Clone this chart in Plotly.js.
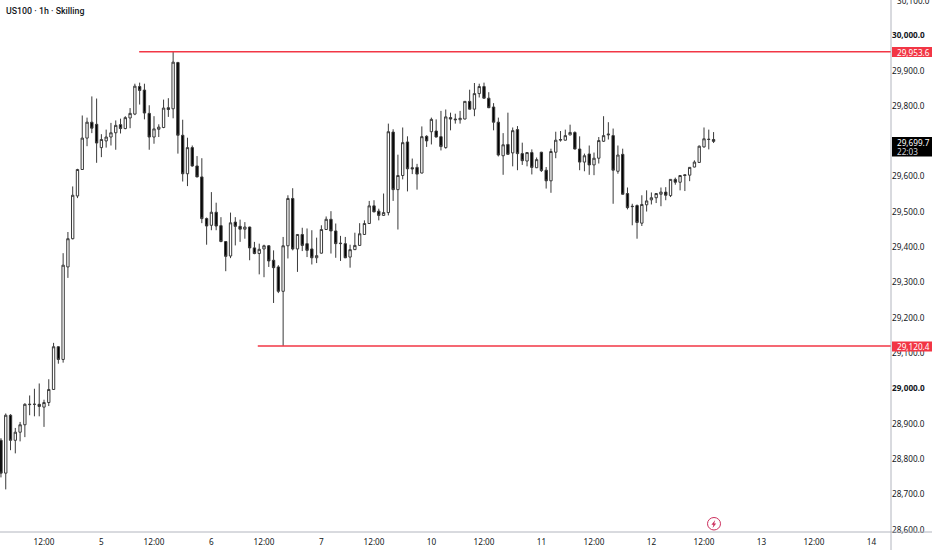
<!DOCTYPE html>
<html><head><meta charset="utf-8">
<script src="https://cdn.plot.ly/plotly-3.0.1.min.js"></script>
<style>html,body{margin:0;padding:0;background:#fff;overflow:hidden}#c{width:932px;height:550px}</style>
</head><body><div id="c"></div>
<script>
const firstBar = -9;
const opens = [28853,28760,28924,28853,28876,28897,28954,28955,28955,28947,28960,28997,29118,29082,29344,29424,29545,29620,29709,29754,29748,29682,29701,29712,29724,29747,29736,29766,29777,29855,29845,29779,29712,29734,29739,29795,29792,29923,29717,29608,29682,29630,29599,29481,29462,29499,29461,29416,29375,29471,29459,29451,29457,29398,29382,29395,29404,29363,29344,29275,29404,29538,29395,29436,29410,29395,29370,29383,29450,29479,29446,29410,29410,29372,29393,29405,29436,29467,29517,29502,29490,29498,29726,29563,29603,29698,29625,29626,29610,29714,29727,29729,29713,29682,29767,29763,29761,29763,29813,29791,29835,29855,29822,29797,29754,29659,29691,29667,29733,29665,29644,29668,29625,29669,29618,29588,29669,29703,29703,29718,29725,29678,29641,29664,29633,29652,29700,29718,29716,29615,29663,29552,29516,29518,29468,29520,29534,29540,29550,29556,29546,29592,29584,29605,29604,29627,29640,29684,29706,29705];
const highs = [28859,28929,28927,28888,28905,28958,28980,28999,29014,28968,29026,29129,29120,29383,29443,29572,29622,29773,29767,29827,29821,29720,29733,29752,29759,29764,29771,29794,29863,29866,29863,29802,29771,29748,29818,29822,29953.6,29925,29761,29710,29688,29658,29652,29484,29556,29526,29485,29417,29498,29485,29478,29471,29458,29415,29410,29407,29406,29391,29349,29429,29547,29567,29437,29455,29453,29448,29427,29462,29487,29502,29467,29432,29429,29407,29441,29468,29476,29531,29533,29509,29552,29750,29734,29662,29739,29714,29651,29636,29742,29717,29767,29762,29786,29790,29781,29778,29786,29814,29846,29865,29863,29866,29839,29808,29767,29723,29781,29739,29743,29696,29669,29677,29654,29670,29627,29679,29727,29729,29733,29747,29728,29714,29665,29688,29668,29712,29771,29754,29736,29688,29679,29569,29523,29521,29547,29561,29555,29553,29569,29570,29593,29597,29604,29606,29627,29646,29688,29739,29733,29726];
const lows = [28748,28714,28825,28816,28850,28862,28924,28921,28921,28891,28950,28996,29070,29073,29313,29422,29539,29619,29686,29723,29639,29655,29682,29688,29676,29722,29734,29737,29774,29804,29762,29676,29693,29712,29737,29769,29765,29665,29586,29573,29628,29598,29468,29407,29448,29448,29414,29332,29369,29405,29415,29424,29363,29380,29323,29315,29344,29242,29270,29120.4,29368,29391,29330,29389,29372,29351,29355,29382,29449,29382,29370,29361,29369,29342,29392,29404,29435,29466,29499,29476,29489,29490,29531,29450,29592,29558,29607,29563,29609,29684,29691,29711,29674,29679,29731,29750,29750,29762,29790,29771,29824,29821,29794,29731,29657,29605,29662,29629,29618,29633,29629,29606,29624,29613,29566,29554,29652,29699,29702,29717,29677,29618,29615,29605,29604,29637,29698,29705,29523,29608,29549,29507,29462,29424,29460,29501,29521,29525,29516,29533,29542,29577,29561,29559,29587,29626,29639,29682,29677,29695];
const closes = [28760,28924,28853,28876,28897,28955,28955,28955,28949,28960,28997,29118,29082,29349,29424,29547,29620,29709,29754,29737,29695,29705,29712,29724,29745,29736,29767,29779,29856,29844,29780,29712,29735,29740,29794,29790,29924,29717,29608,29682,29630,29599,29481,29460,29499,29460,29416,29374,29469,29459,29451,29457,29398,29382,29394,29404,29361,29342,29275,29404,29538,29395,29436,29405,29391,29370,29376,29450,29479,29446,29410,29411,29370,29393,29405,29438,29467,29517,29500,29490,29498,29727,29563,29603,29696,29622,29622,29607,29713,29701,29762,29712,29685,29769,29763,29761,29765,29813,29791,29835,29855,29822,29795,29754,29661,29690,29663,29730,29665,29645,29668,29626,29648,29617,29588,29671,29703,29705,29716,29725,29678,29641,29659,29633,29652,29702,29716,29720,29618,29661,29550,29512,29515,29470,29521,29531,29540,29552,29556,29547,29592,29584,29603,29603,29626,29641,29686,29707,29705,29699.7];

const supportLevel = 29120.4, resistanceLevel = 29953.6, lastPrice = 29699.7;
const resistanceStart = 19.9, supportStart = 44.7, levelEnd = 177.1;
const yTicks = [28600,28700,28800,28900,29000,29100,29200,29300,29400,29500,29600,29800,29900,30000];
const yTickText = ["28,600.0","28,700.0","28,800.0","28,900.0","<b>29,000.0</b>","29,100.0","29,200.0","29,300.0","29,400.0","29,500.0","29,600.0","29,800.0","29,900.0","<b>30,000.0</b>"];
const topTickValue = 30100, topTickText = "30,100.0";
const xTicks = [0,12,23,35,46,58,69,81,92,104,115,127,138,150,161,173];
const xTickText = ["12:00","5","12:00","6","12:00","7","12:00","10","12:00","11","12:00","12","12:00","13","12:00","14"];
const countdown = "22:03";
const barIndex = opens.map((_, i) => firstBar + i);

const ink = "#131722", red = "#f23645", axisGrey = "#b2b5be", wickInk = "#3a3a3a", bolt = "#cc2f5d";
const fontFam = "'Noto Sans','Liberation Sans',sans-serif";

const traces = [
  {type:"candlestick", x:barIndex, open:opens, high:highs, low:lows, close:closes,
   increasing:{line:{color:wickInk,width:1}, fillcolor:"#ffffff"},
   decreasing:{line:{color:wickInk,width:1}, fillcolor:"#000000"},
   whiskerwidth:0, hoverinfo:"skip", showlegend:false},
  {type:"scatter", mode:"lines", x:[resistanceStart, levelEnd], y:[resistanceLevel, resistanceLevel],
   line:{color:red,width:1.5}, hoverinfo:"skip", showlegend:false},
  {type:"scatter", mode:"lines", x:[supportStart, levelEnd], y:[supportLevel, supportLevel],
   line:{color:red,width:1.5}, hoverinfo:"skip", showlegend:false}
];

function fmt(v){ return v.toLocaleString("en-US",{minimumFractionDigits:1,maximumFractionDigits:1}); }
const PW = 891, PH = 532;
const px = x => x / PW, py = y => 1 - y / PH;
function rect(x0, y0, x1, y1, fill){
  return {type:"rect",xref:"paper",yref:"paper",layer:"above",x0:px(x0),x1:px(x1),y0:py(y0),y1:py(y1),fillcolor:fill,line:{width:0}};
}
function axisText(xPixel, yPixel, text, color, size){
  return {xref:"paper",yref:"paper",x:px(xPixel),y:py(yPixel),xanchor:"left",yanchor:"middle",showarrow:false,
    text:text,font:{family:fontFam,size:size||8.2,color:color}};
}
const boltPts = [[715.2,520],[711.4,524.8],[713.4,524.8],[712.6,528],[716.2,523.4],[714.2,523.4]];
const boltPath = boltPts.map((p,i)=>(i?"L":"M")+px(p[0])+","+py(p[1])).join(" ")+" Z";

const layout = {
  width:932, height:550, paper_bgcolor:"#ffffff", plot_bgcolor:"#ffffff",
  margin:{l:0,r:41,t:0,b:18,pad:0}, dragmode:false, showlegend:false,
  xaxis:{range:[-9.2,177.1], type:"linear", rangeslider:{visible:false}, showgrid:false, zeroline:false,
    tickmode:"array", tickvals:xTicks, ticktext:xTickText, ticks:"", showline:false, ticklabelstandoff:4,
    tickfont:{family:fontFam,size:8.2,color:ink}, automargin:false},
  yaxis:{range:[28593.3,30100.1], side:"right", showgrid:false, zeroline:false,
    tickmode:"array", tickvals:yTicks, ticktext:yTickText, ticks:"", showline:false,
    ticklabelstandoff:4.5, tickfont:{family:fontFam,size:8.2,color:ink}, automargin:false},
  shapes:[
    {type:"line",xref:"paper",yref:"paper",x0:0,x1:1.05,y0:0,y1:0,line:{color:axisGrey,width:1}},
    {type:"line",xref:"paper",yref:"paper",x0:1,x1:1,y0:-0.04,y1:1,line:{color:axisGrey,width:1}},
    rect(892,47,932,57,red),
    rect(892,341.5,932,351.5,red),
    rect(892,137,932,156.5,"#000000"),
    {type:"circle",xref:"paper",yref:"paper",x0:px(707.5),x1:px(720.5),y0:py(530),y1:py(517.5),
     line:{color:bolt,width:1},fillcolor:"rgba(255,255,255,0)"},
    {type:"path",xref:"paper",yref:"paper",path:boltPath,fillcolor:bolt,line:{width:0}}
  ],
  annotations:[
    {xref:"paper",yref:"paper",x:px(4),y:py(10.5),xanchor:"left",yanchor:"middle",showarrow:false,
     text:"US100 · 1h · Skilling",font:{family:"Roboto,'Noto Sans',sans-serif",size:8.8,weight:500,color:ink}},
    axisText(895.5, 0, topTickText, ink),
    axisText(895.5, 52, fmt(resistanceLevel), "#ffffff"),
    axisText(895.5, 346.5, fmt(supportLevel), "#ffffff"),
    axisText(895.5, 142, fmt(lastPrice), "#ffffff"),
    axisText(895.5, 151, countdown, "#d1d4dc")
  ]
};
Plotly.newPlot("c", traces, layout, {displayModeBar:false, staticPlot:true, responsive:false});
</script>
</body></html>
